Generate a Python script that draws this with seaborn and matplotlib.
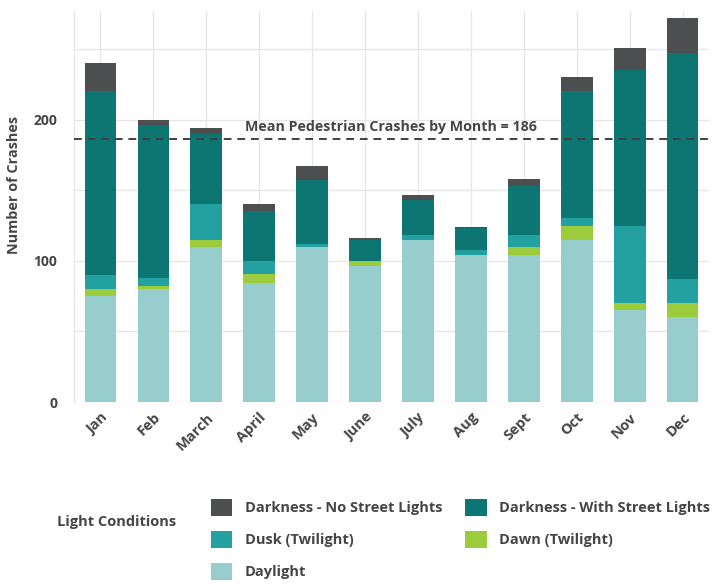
import numpy as np
import pandas as pd
import matplotlib
matplotlib.use("Agg")
import matplotlib.pyplot as plt
from matplotlib.patches import Patch
import seaborn as sns

months = ["Jan", "Feb", "March", "April", "May", "June", "July", "Aug", "Sept", "Oct", "Nov", "Dec"]
daylight = [75, 80, 110, 84, 110, 96, 115, 104, 104, 115, 65, 60]
dawn = [5, 2, 5, 7, 0, 4, 0, 0, 6, 10, 5, 10]
dusk = [10, 6, 25, 9, 2, 0, 3, 4, 8, 5, 55, 17]
dark_lit = [130, 108, 50, 35, 45, 15, 25, 15, 35, 90, 110, 160]
dark_nolight = [20, 4, 4, 5, 10, 1, 4, 1, 5, 10, 16, 25]
mean_value = 186

series_names = ["Daylight", "Dawn (Twilight)", "Dusk (Twilight)",
                "Darkness - With Street Lights", "Darkness - No Street Lights"]
series_vals = [daylight, dawn, dusk, dark_lit, dark_nolight]
colors = {
    "Darkness - No Street Lights": "#4d4e50",
    "Darkness - With Street Lights": "#0e7672",
    "Dusk (Twilight)": "#23a1a1",
    "Dawn (Twilight)": "#9ccb3b",
    "Daylight": "#98cdcd",
}

sns.set_theme(style="white")
plt.rcParams['font.family'] = ['Open Sans', 'DejaVu Sans']
text_color = "#454545"

df = pd.DataFrame({name: vals for name, vals in zip(series_names, series_vals)})
df["month"] = months
cum = df[series_names].cumsum(axis=1)

fig = plt.figure(figsize=(7.2, 5.87), dpi=100)
ax = fig.add_axes([74 / 720, 185 / 587, 635 / 720, 391 / 587])

# draw cumulative layers from top to bottom
for name in reversed(series_names):
    sns.barplot(x=df["month"], y=cum[name], color=colors[name], width=0.6,
                saturation=1, linewidth=0, ax=ax, zorder=2)

ax.axhline(mean_value, color="#404040", linestyle=(0, (4, 3)), linewidth=1.4, zorder=3)
ax.text(5.5, mean_value + 4, f"Mean Pedestrian Crashes by Month = {mean_value}",
        ha="center", va="bottom", fontsize=10.3, fontweight="bold", color=text_color, zorder=4)

ax.set_xlim(-0.5, 11.5)
ax.set_ylim(0, 277)
ax.set_yticks([0, 100, 200])
ax.set_yticks([50, 150, 250], minor=True)
ax.grid(True, which="both", axis="y", color="#e6e6e6", linewidth=0.9, zorder=0)
ax.grid(True, which="major", axis="x", color="#e6e6e6", linewidth=0.9, zorder=0)
ax.set_axisbelow(True)
for s in ["top", "right", "bottom"]:
    ax.spines[s].set_visible(False)
ax.spines["left"].set_color("#e6e6e6")
ax.spines["left"].set_linewidth(0.9)

ax.set_xlabel("")
ax.set_ylabel("Number of Crashes", fontsize=10.4, fontweight="bold", color=text_color)
ax.yaxis.set_label_coords(-0.084, (402 - 185) / 391)
ax.tick_params(axis="both", which="both", length=0)
ax.tick_params(axis="y", labelsize=10, labelcolor=text_color, pad=12)
ax.tick_params(axis="x", labelsize=10.5, labelcolor=text_color, pad=6)
for lbl in ax.get_yticklabels():
    lbl.set_fontweight("bold")
for lbl in ax.get_xticklabels():
    lbl.set_fontweight("bold")
    lbl.set_rotation(45)
    lbl.set_ha("right")
    lbl.set_rotation_mode("anchor")

# legend
order = ["Darkness - No Street Lights", "Dusk (Twilight)", "Daylight",
         "Darkness - With Street Lights", "Dawn (Twilight)"]
handles = [Patch(facecolor=colors[n], edgecolor="none", label=n) for n in order]
leg = fig.legend(handles=handles, loc="upper left", bbox_to_anchor=(211 / 720, 1 - 499 / 587),
                 ncol=2, frameon=False, fontsize=10.5, handlelength=1.45, handleheight=1.45,
                 handletextpad=0.85, columnspacing=1.6, labelspacing=0.99,
                 borderpad=0, borderaxespad=0)
for t in leg.get_texts():
    t.set_fontweight("bold")
    t.set_color(text_color)
fig.text(57 / 720, 1 - 522 / 587, "Light Conditions", ha="left", va="center",
         fontsize=10.5, fontweight="bold", color=text_color)

fig.savefig("out.png", dpi=100)
